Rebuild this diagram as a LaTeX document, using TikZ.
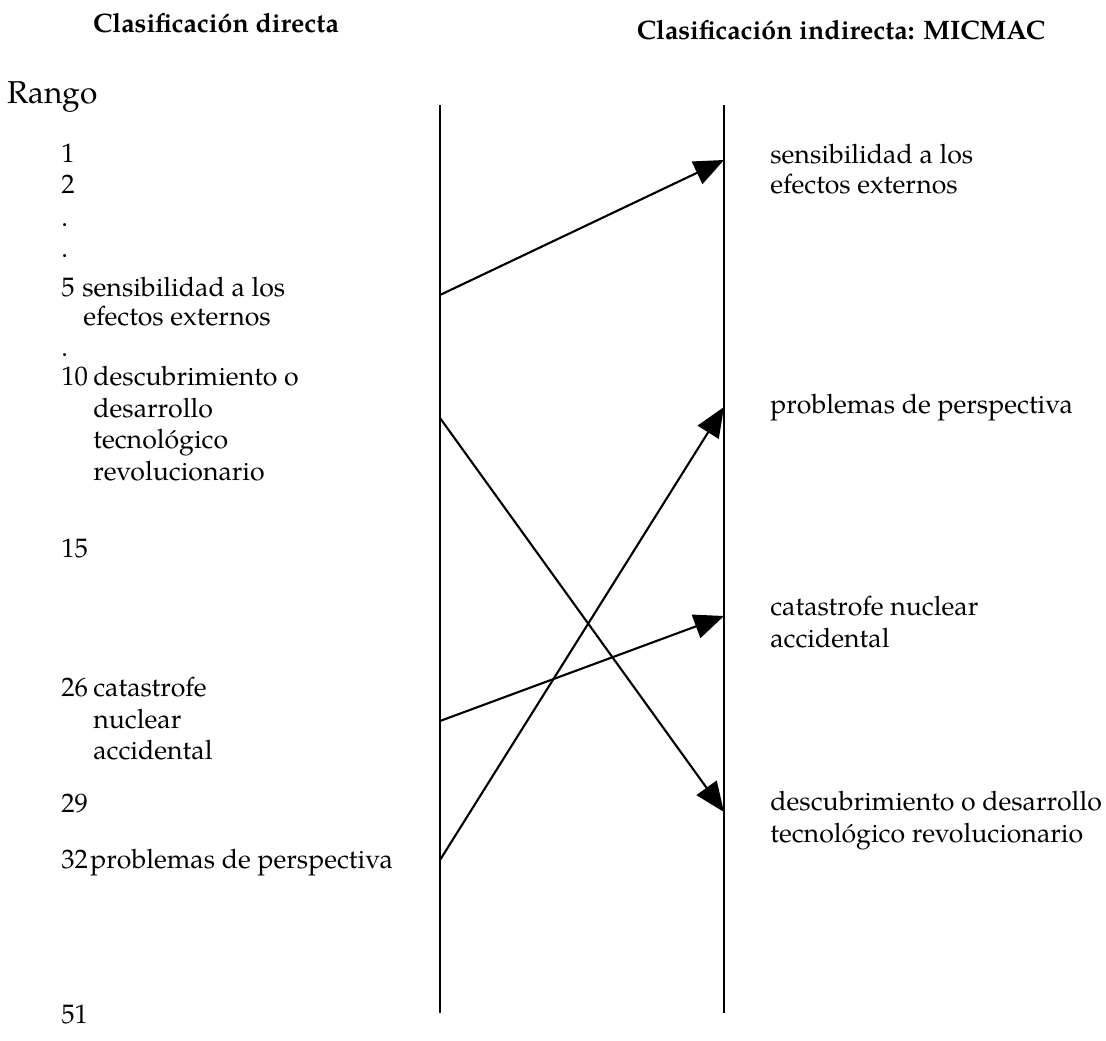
\documentclass[tikz,border=0pt]{standalone}
\usepackage{fontspec}
\setmainfont{TeX Gyre Pagella}
\usetikzlibrary{arrows.meta}
\tikzset{
  txt/.style={anchor=base west, inner sep=0pt, font=\fontsize{15.2}{18.2}\selectfont},
  head/.style={anchor=base, inner sep=0pt, font=\fontsize{15.2}{18}\selectfont\bfseries},
  axis/.style={line width=1.6pt},
  arr/.style={line width=1.2pt, -{Triangle[length=17pt,width=14pt]}}
}
\begin{document}
\begin{tikzpicture}[x=0.02cm,y=-0.02cm]
\useasboundingbox (0,0) rectangle (1106,1041);
% headings
\node[head] (h1) at (216,32) {Clasificación directa};
\node[head] (h2) at (841,39) {Clasificación indirecta: MICMAC};
\node[txt, font=\fontsize{18}{21}\selectfont] (rango) at (7,103) {Rango};
% vertical lines
\coordinate (Ltop) at (440,105); \coordinate (Lbot) at (440,1013);
\coordinate (Rtop) at (724,105); \coordinate (Rbot) at (724,1013);
\draw[axis] (Ltop) -- (Lbot);
\draw[axis] (Rtop) -- (Rbot);
% left list
\node[txt] (n1) at (61,162) {1};
\node[txt] (n2) at (61,193) {2};
\node[txt] (d1) at (61,226) {.};
\node[txt] (d2) at (61,257) {.};
\node[txt] (n5) at (61,296) {5};
\node[txt] (t5a) at (82,296) {sensibilidad a los};
\node[txt] (t5b) at (83,325) {efectos externos};
\node[txt] (d3) at (61,356) {.};
\node[txt] (n10) at (61,385) {10};
\node[txt] (t10a) at (93,385) {descubrimiento o};
\node[txt] (t10b) at (93,417) {desarrollo};
\node[txt] (t10c) at (93,448) {tecnológico};
\node[txt] (t10d) at (93,480) {revolucionario};
\node[txt] (n15) at (61,557) {15};
\node[txt] (n26) at (61,696) {26};
\node[txt] (t26a) at (93,696) {catastrofe};
\node[txt] (t26b) at (93,728) {nuclear};
\node[txt] (t26c) at (93,759) {accidental};
\node[txt] (n29) at (61,812) {29};
\node[txt] (n32) at (61,868) {32};
\node[txt] (t32) at (90,868) {problemas de perspectiva};
\node[txt] (n51) at (61,1023) {51};
% right list
\node[txt] (r1a) at (770,163) {sensibilidad a los};
\node[txt] (r1b) at (770,193) {efectos externos};
\node[txt] (r2) at (770,413) {problemas de perspectiva};
\node[txt] (r3a) at (770,615) {catastrofe nuclear};
\node[txt] (r3b) at (770,647) {accidental};
\node[txt] (r4a) at (770,810) {descubrimiento o desarrollo};
\node[txt] (r4b) at (770,842) {tecnológico revolucionario};
% arrow endpoints
\coordinate (a1s) at (440,295); \coordinate (a1e) at (724,160);
\coordinate (a2s) at (440,418); \coordinate (a2e) at (724,812);
\coordinate (a3s) at (440,860); \coordinate (a3e) at (724,407);
\coordinate (a4s) at (440,721); \coordinate (a4e) at (724,616);
\draw[arr] (a1s) -- (a1e);
\draw[arr] (a2s) -- (a2e);
\draw[arr] (a3s) -- (a3e);
\draw[arr] (a4s) -- (a4e);
\end{tikzpicture}
\end{document}
